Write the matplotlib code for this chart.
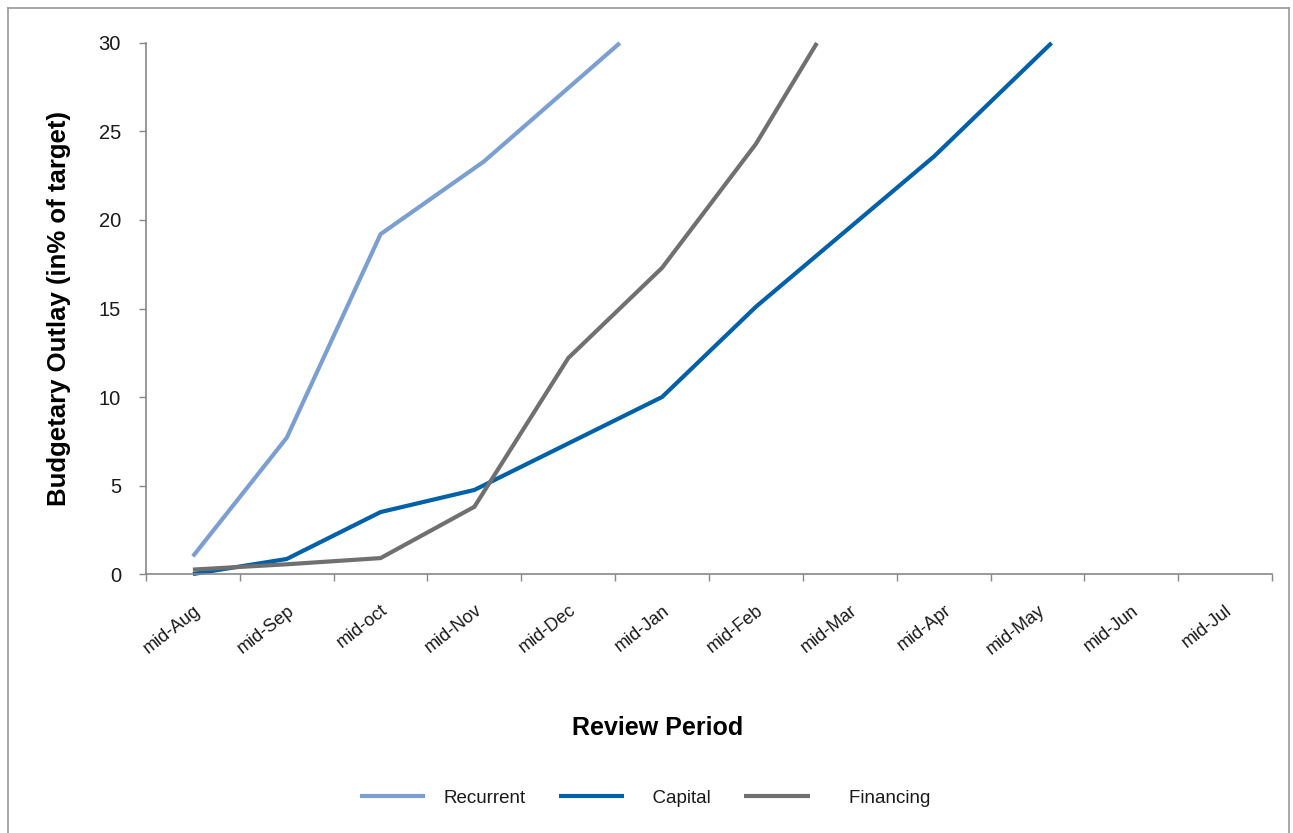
import matplotlib
matplotlib.use("Agg")
import matplotlib.pyplot as plt
from matplotlib.lines import Line2D

plt.rcParams['font.family'] = ['Liberation Sans', 'DejaVu Sans']

# Review periods (category axis)
periods = ["mid-Aug", "mid-Sep", "mid-oct", "mid-Nov", "mid-Dec", "mid-Jan",
           "mid-Feb", "mid-Mar", "mid-Apr", "mid-May", "mid-Jun", "mid-Jul"]

# Review dates in months after mid-Aug, with cumulative outlay (% of target)
recurrent_x = [0, 1, 2, 3.1, 4.55]
recurrent_y = [1.0, 7.7, 19.2, 23.3, 30.0]

capital_x = [0, 1, 2, 3, 5, 6, 7.9, 9.15]
capital_y = [0.0, 0.85, 3.5, 4.75, 10.0, 15.1, 23.6, 30.0]

financing_x = [0, 1, 2, 3, 4, 5, 6, 6.65]
financing_y = [0.25, 0.55, 0.9, 3.8, 12.2, 17.3, 24.3, 30.0]

series = [
    ("Recurrent", recurrent_x, recurrent_y, "#7B9FD0"),
    ("  Capital", capital_x, capital_y, "#0060A8"),
    ("    Financing", financing_x, financing_y, "#707070"),
]

fig = plt.figure(figsize=(12.93, 8.33), dpi=100)
ax = fig.add_axes([0.1129, 0.3109, 0.8709, 0.6375])

for name, xs, ys, col in series:
    ax.plot(xs, ys, color=col, lw=3.0, label=name, solid_capstyle='butt',
            solid_joinstyle='miter', clip_on=False)

n = len(periods)
ax.set_xlim(-0.5, n - 0.5)
ax.set_ylim(0, 30)
ax.set_yticks([0, 5, 10, 15, 20, 25, 30])
ax.tick_params(axis='y', labelsize=14.5, length=5, width=1, color='#888888',
               labelcolor='#1a1a1a', pad=13)

# boundaries between categories carry the tick marks, labels sit at centres
ax.set_xticks([i - 0.5 for i in range(n + 1)])
ax.set_xticklabels([])
ax.tick_params(axis='x', length=5, width=1, color='#888888')
ax.set_xticks(range(n), minor=True)
ax.set_xticklabels(periods, minor=True, rotation=38, ha='right',
                   rotation_mode='anchor', fontsize=13, color='#1a1a1a')
ax.tick_params(axis='x', which='minor', length=0, pad=20)

for s in ['top', 'right']:
    ax.spines[s].set_visible(False)
for s in ['left', 'bottom']:
    ax.spines[s].set_color('#888888')
    ax.spines[s].set_linewidth(1.2)

ax.set_ylabel("Budgetary Outlay (in% of target)", fontsize=18.5,
              fontweight='bold', labelpad=20)
ax.set_xlabel("Review Period", fontsize=18, fontweight='bold')
ax.xaxis.set_label_coords(0.454, -0.267)

leg = ax.legend(loc='center', bbox_to_anchor=(0.443, -0.422), ncol=3,
                frameon=False, fontsize=13.5, handlelength=3.5,
                handletextpad=0.96, columnspacing=1.76)
for t in leg.get_texts():
    t.set_color('#1a1a1a')

# outer frame around the chart area
frame_kw = dict(color='#999999', lw=1.2, transform=fig.transFigure)
fig.add_artist(Line2D([8 / 1293, 8 / 1293], [0, 1 - 8 / 833], **frame_kw))
fig.add_artist(Line2D([8 / 1293, 1289 / 1293], [1 - 8 / 833, 1 - 8 / 833], **frame_kw))
fig.add_artist(Line2D([1289 / 1293, 1289 / 1293], [0, 1 - 8 / 833], **frame_kw))

fig.savefig("out.png", dpi=100)
